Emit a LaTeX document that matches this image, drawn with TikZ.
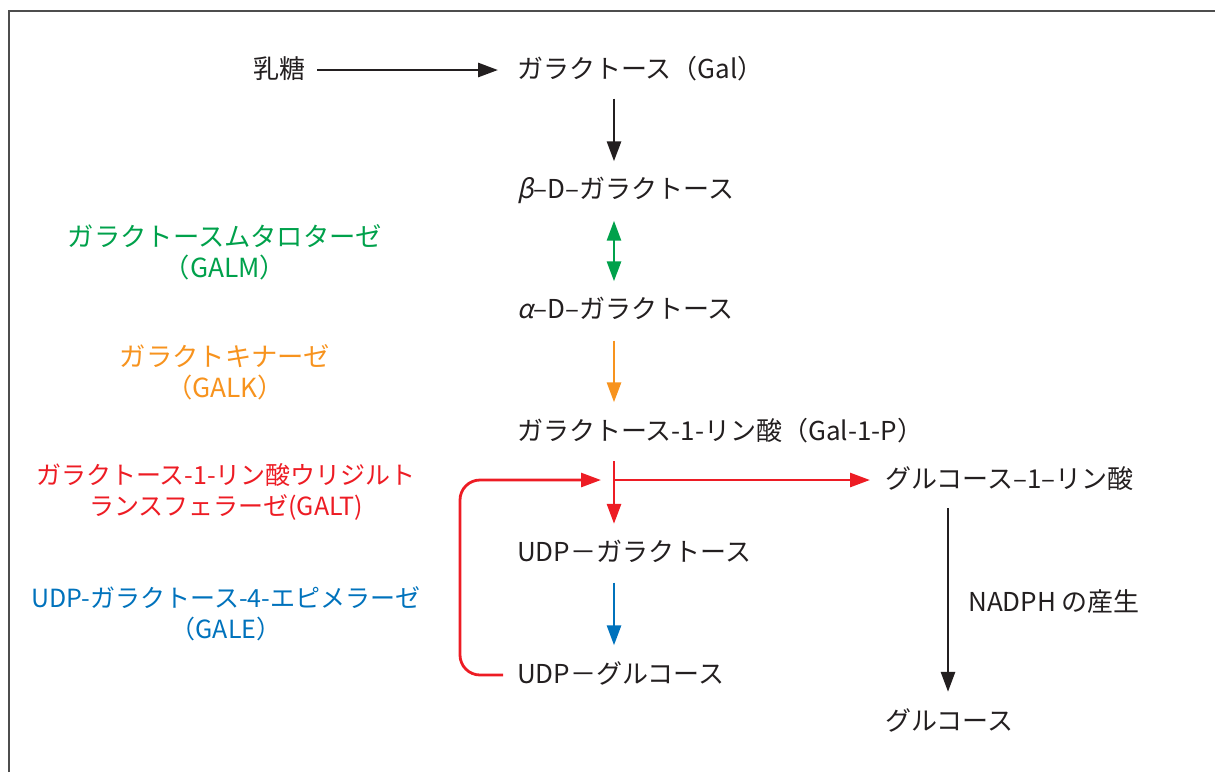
\documentclass[tikz,border=0pt]{standalone}
\usepackage{fontspec}
\setmainfont{Noto Sans CJK JP}
\newfontfamily\grk[FakeSlant=0.22]{Noto Sans CJK JP}
\usetikzlibrary{arrows.meta}
\definecolor{txt}{HTML}{231F20}
\definecolor{cgreen}{HTML}{00A14B}
\definecolor{corange}{HTML}{F7931E}
\definecolor{cred}{HTML}{ED1C24}
\definecolor{cblue}{HTML}{0072BC}
\definecolor{frame}{HTML}{4D4D4D}
\begin{document}
\begin{tikzpicture}[x=1pt,y=-1pt,
  lbl/.style={anchor=west, inner sep=0pt, text height=20pt, text depth=3pt, font=\fontsize{26}{30}\selectfont, text=txt},
  enz/.style={align=center, inner sep=0pt, font=\fontsize{26.3}{31}\selectfont},
  enzs/.style={align=center, inner sep=0pt, font=\fontsize{25}{31}\selectfont},
  tip/.tip={Triangle[length=20pt,width=14pt]},
  arr/.style={line width=2.8pt, -tip, shorten <=17pt, shorten >=17pt}]
\useasboundingbox (0,0) rectangle (1215,772);
\draw[frame, line width=2pt] (9,772) -- (9,11) -- (1215,11);

% main column
\node[lbl] (lac) at (253,70) {乳糖};
\node[lbl] (gal) at (517,70) {ガラクトース（Gal）};
\node[lbl] (beta) at (517,190) {{\grk β}–D–ガラクトース};
\node[lbl] (alpha) at (517,310) {{\grk α}–D–ガラクトース};
\node[lbl] (g1p) at (517,432) {ガラクトース-1-リン酸（Gal-1-P）};
\node[lbl] (udpgal) at (517,553) {UDP－ガラクトース};
\node[lbl] (udpglc) at (517,675) {UDP－グルコース};
\node[lbl] (glc1p) at (885,480) {グルコース–1–リン酸};
\node[lbl] (nadph) at (968,603) {NADPH の産生};
\node[lbl] (glc) at (885,722) {グルコース};

% enzymes
\node[enz, text=cgreen] (galm) at (225,252) {ガラクトースムタロターゼ\\（GALM）};
\node[enz, text=corange] (galk) at (225,372) {ガラクトキナーゼ\\（GALK）};
\node[enzs, text=cred] (galt) at (226,492) {ガラクトース-1-リン酸ウリジルト\\ランスフェラーゼ(GALT)};
\node[enzs, text=cblue] (gale) at (226,614) {UDP-ガラクトース-4-エピメラーゼ\\（GALE）};

\coordinate (ax) at (614,0);
\coordinate (bx) at (948,0);
\coordinate (j) at (614,480);
\coordinate (lp) at (460,0);

\draw[arr, txt, shorten <=12pt, shorten >=19pt] (lac.east) -- (gal.west);
\draw[arr, txt] (gal.south -| ax) -- (beta.north -| ax);
\draw[arr, cgreen, tip-tip, shorten <=19pt] (beta.south -| ax) -- (alpha.north -| ax);
\draw[arr, corange, shorten <=19pt, shorten >=18pt] (alpha.south -| ax) -- (g1p.north -| ax);
\draw[arr, cred, shorten <=17.5pt, shorten >=17.5pt] (g1p.south -| ax) -- (udpgal.north -| ax);
\draw[arr, cred, shorten <=0pt, shorten >=15pt] (j) -- (glc1p.west);
\draw[arr, cred, shorten <=14pt, shorten >=13pt, rounded corners=20pt] (udpglc.west) -- (udpglc.west -| lp) -- (j -| lp) -- (j);
\draw[arr, cblue, shorten <=18pt, shorten >=18pt] (udpgal.south -| ax) -- (udpglc.north -| ax);
\draw[arr, txt, shorten <=16.5pt, shorten >=18.5pt] (glc1p.south -| bx) -- (glc.north -| bx);
\end{tikzpicture}
\end{document}
